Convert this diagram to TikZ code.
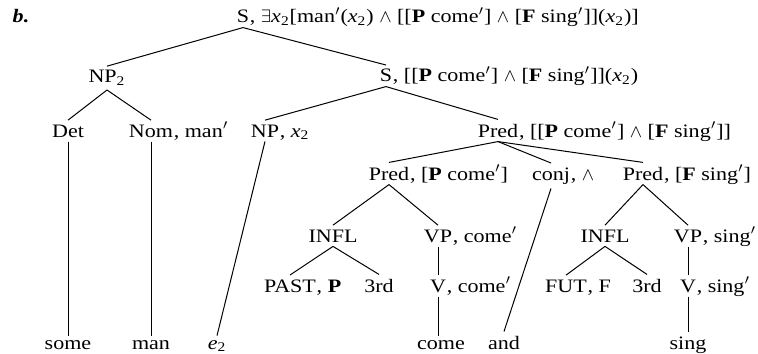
\documentclass[tikz,border=0pt]{standalone}
\usepackage{fontspec}
\setmainfont{Liberation Serif}[FakeStretch=1.16]
\newcommand\xsub{\textit{x}\textsubscript{2}}
\newcommand\prm{\ensuremath{'}}
\newcommand\andsym{\ensuremath{\wedge}}
\begin{document}
\begin{tikzpicture}[x=0.5pt,y=-0.5pt,
  font=\fontsize{9.5}{11}\selectfont,
  cat/.style={inner xsep=0pt, inner ysep=2pt, anchor=base},
  sem/.style={inner sep=0pt, anchor=base west},
  edge/.style={line width=0.5pt}]
\useasboundingbox (0,0) rectangle (758,353);
\node[cat] (lbl) at (21,23) {\textbf{\textit{b.}}};
% row 0
\node[cat] (s0) at (243,23) {S};
\node[sem] (s0r) at (s0.base east) {, \ensuremath{\exists}\xsub[man\prm(\xsub) \andsym{} [[\textbf{P} come\prm] \andsym{} [\textbf{F} sing\prm]](\xsub)]};
% row 1
\node[cat] (np2) at (107,83) {NP\textsubscript{2}};
\node[cat] (s1) at (386,82) {S};
\node[sem] (s1r) at (s1.base east) {, [[\textbf{P} come\prm] \andsym{} [\textbf{F} sing\prm]](\xsub)};
% row 2
\node[cat] (det) at (68,137) {Det};
\node[cat] (nom) at (151,137) {Nom};
\node[sem] (nomr) at (nom.base east) {, man\prm};
\node[cat] (npx) at (265,137) {NP};
\node[sem] (npxr) at (npx.base east) {, \xsub};
\node[cat] (pr0) at (498,137) {Pred};
\node[sem] (pr0r) at (pr0.base east) {, [[\textbf{P} come\prm] \andsym{} [\textbf{F} sing\prm]]};
% row 3
\node[cat] (pr1) at (389,180) {Pred};
\node[sem] (pr1r) at (pr1.base east) {, [\textbf{P} come\prm]};
\node[cat] (cj) at (551,180) {conj};
\node[sem] (cjr) at (cj.base east) {, \andsym};
\node[cat] (pr2) at (643,180) {Pred};
\node[sem] (pr2r) at (pr2.base east) {, [\textbf{F} sing\prm]};
% row 4
\node[cat] (inf1) at (333,242) {INFL};
\node[cat] (vp1) at (438,242) {VP};
\node[sem] (vp1r) at (vp1.base east) {, come\prm};
\node[cat] (inf2) at (605,242) {INFL};
\node[cat] (vp2) at (688,242) {VP};
\node[sem] (vp2r) at (vp2.base east) {, sing\prm};
% row 5
\node[cat] (past) at (290,292) {PAST};
\node[sem] (pastr) at (past.base east) {, \textbf{P}};
\node[cat] (rd1) at (379,292) {3rd};
\node[cat] (v1) at (438,292) {V};
\node[sem] (v1r) at (v1.base east) {, come\prm};
\node[cat] (fut) at (566,292) {FUT};
\node[sem] (futr) at (fut.base east) {, F};
\node[cat] (rd2) at (647,292) {3rd};
\node[cat] (v2) at (688,292) {V};
\node[sem] (v2r) at (v2.base east) {, sing\prm};
% row 6
\node[cat] (some) at (68,349) {some};
\node[cat] (man) at (151,349) {man};
\node[cat] (e) at (217,349) {\textit{e}\textsubscript{2}};
\node[cat] (come) at (441,349) {come};
\node[cat] (and) at (504,349) {and};
\node[cat] (sing) at (688,349) {sing};
% edges
\draw[edge] (s0.south) -- (np2.north);
\draw[edge] (s0.south) -- (s1.north);
\draw[edge] (np2.south) -- (det.north);
\draw[edge] (np2.south) -- (nom.north);
\draw[edge] (s1.south) -- (npx.north);
\draw[edge] (s1.south) -- (pr0.north);
\draw[edge] (det.south) -- (det.south |- some.north);
\draw[edge] (nom.south) -- (nom.south |- man.north);
\draw[edge] (npx.south) -- (e.north);
\draw[edge] (pr0.south) -- (pr1.north);
\draw[edge] (pr0.south) -- (cj.north);
\draw[edge] (pr0.south) -- (pr2.north);
\draw[edge] (cj.south) -- (and.north);
\draw[edge] (pr1.south) -- (inf1.north);
\draw[edge] (pr1.south) -- (vp1.north);
\draw[edge] (pr2.south) -- (inf2.north);
\draw[edge] (pr2.south) -- (vp2.north);
\draw[edge] (inf1.south) -- (past.north);
\draw[edge] (inf1.south) -- (rd1.north);
\draw[edge] (inf2.south) -- (fut.north);
\draw[edge] (inf2.south) -- (rd2.north);
\draw[edge] (vp1.south) -- (v1.north);
\draw[edge] (vp2.south) -- (v2.north);
\draw[edge] (v1.south) -- (v1.south |- come.north);
\draw[edge] (v2.south) -- (v2.south |- sing.north);
\end{tikzpicture}
\end{document}
